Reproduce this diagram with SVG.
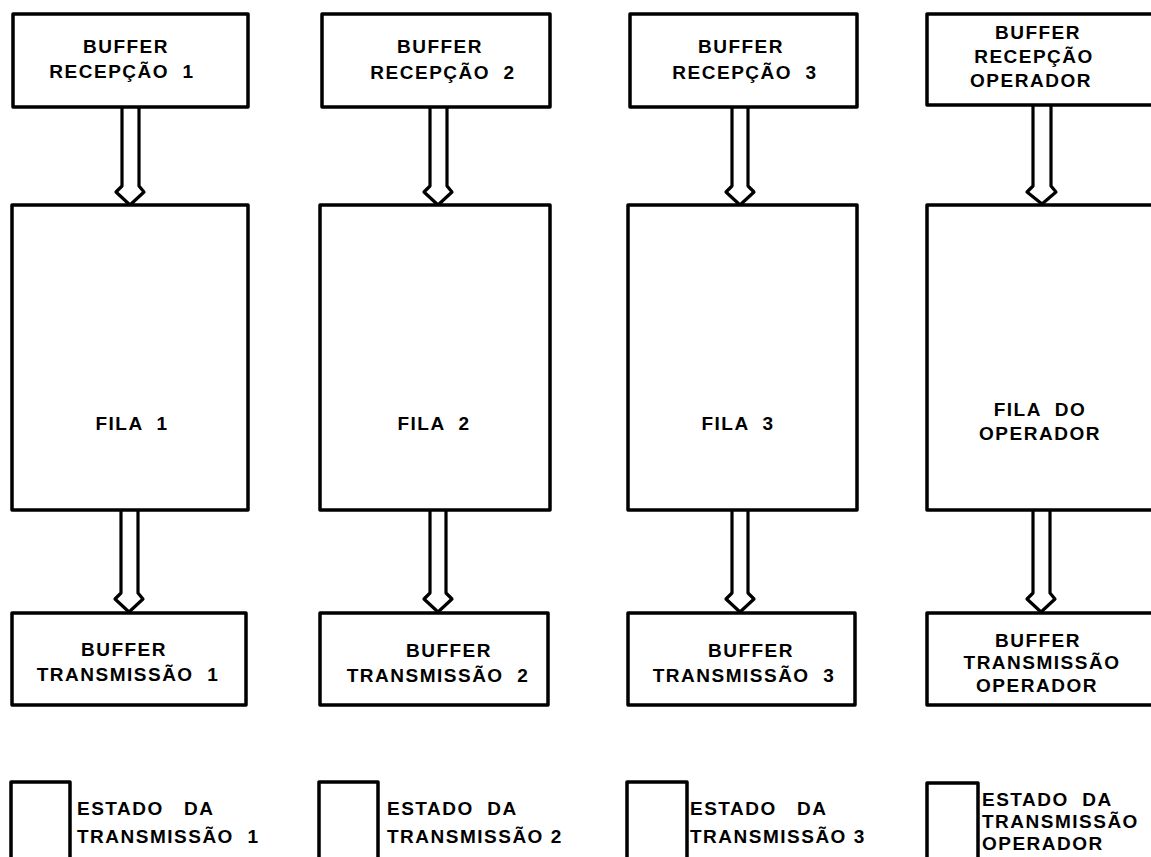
<svg xmlns="http://www.w3.org/2000/svg" width="1151" height="857" viewBox="0 0 1151 857" xml:space="preserve">
<style>
.box{fill:#fff;stroke:#000;stroke-width:3.5;stroke-linejoin:round}
.arr{fill:#fff;stroke:#000;stroke-width:3.2;stroke-linejoin:round}
text{font-family:"Liberation Sans",Arial,sans-serif;font-weight:bold;font-size:19px;letter-spacing:1.5px;fill:#000;white-space:pre}
.m{text-anchor:middle}
</style>
<rect width="1151" height="857" fill="#fff"/>
<g id="connectors">
<path class="arr" d="M122,107 V186 L116,192 L130,205 L144,192 L139,186 V107"/>
<path class="arr" d="M430,107 V186 L424,192 L438,205 L452,192 L447,186 V107"/>
<path class="arr" d="M732,107 V186 L726,192 L740,205 L754,192 L748,186 V107"/>
<path class="arr" d="M1033,105 V186 L1027,192 L1042,204 L1056,192 L1051,186 V105"/>
<path class="arr" d="M121,510 V593 L115,599 L129,612 L143,599 L138,593 V510"/>
<path class="arr" d="M430,510 V593 L424,599 L438,612 L452,599 L446,593 V510"/>
<path class="arr" d="M732,510 V593 L726,599 L740,612 L754,599 L748,593 V510"/>
<path class="arr" d="M1033,510 V593 L1027,599 L1041,612 L1055,599 L1050,593 V510"/>
</g>
<g id="buf-rx-1"><rect class="box" x="13" y="14" width="235" height="93"/><text class="m" x="126" y="53">BUFFER</text><text class="m" x="122" y="78">RECEPÇÃO  1</text></g>
<g id="buf-rx-2"><rect class="box" x="322" y="14" width="228" height="93"/><text class="m" x="440" y="53">BUFFER</text><text class="m" x="443" y="79">RECEPÇÃO  2</text></g>
<g id="buf-rx-3"><rect class="box" x="630" y="14" width="227" height="93"/><text class="m" x="741" y="53">BUFFER</text><text class="m" x="745" y="79">RECEPÇÃO  3</text></g>
<g id="buf-rx-op"><rect class="box" x="927" y="14" width="240" height="91"/><text class="m" x="1038" y="39">BUFFER</text><text class="m" x="1034" y="63">RECEPÇÃO</text><text class="m" x="1031" y="87">OPERADOR</text></g>
<g id="fila-1"><rect class="box" x="12" y="205" width="236" height="305"/><text class="m" x="132" y="430">FILA  1</text></g>
<g id="fila-2"><rect class="box" x="320" y="205" width="230" height="305"/><text class="m" x="434" y="430">FILA  2</text></g>
<g id="fila-3"><rect class="box" x="628" y="205" width="229" height="305"/><text class="m" x="738" y="430">FILA  3</text></g>
<g id="fila-op"><rect class="box" x="927" y="205" width="240" height="305"/><text class="m" x="1040" y="416">FILA  DO</text><text class="m" x="1040" y="440">OPERADOR</text></g>
<g id="buf-tx-1"><rect class="box" x="12" y="613" width="234" height="92"/><text class="m" x="124" y="656">BUFFER</text><text class="m" x="128" y="681">TRANSMISSÃO  1</text></g>
<g id="buf-tx-2"><rect class="box" x="320" y="613" width="228" height="92"/><text class="m" x="449" y="657">BUFFER</text><text class="m" x="438" y="682">TRANSMISSÃO  2</text></g>
<g id="buf-tx-3"><rect class="box" x="628" y="613" width="227" height="92"/><text class="m" x="751" y="657">BUFFER</text><text class="m" x="744" y="682">TRANSMISSÃO  3</text></g>
<g id="buf-tx-op"><rect class="box" x="927" y="613" width="240" height="92"/><text class="m" x="1038" y="647">BUFFER</text><text class="m" x="1042" y="669">TRANSMISSÃO</text><text class="m" x="1037" y="692">OPERADOR</text></g>
<g id="estado-1"><rect class="box" x="11" y="782" width="59" height="95"/><text x="77" y="815">ESTADO   DA</text><text x="77" y="843">TRANSMISSÃO  1</text></g>
<g id="estado-2"><rect class="box" x="319" y="782" width="59" height="95"/><text x="387" y="815">ESTADO  DA</text><text x="387" y="843">TRANSMISSÃO 2</text></g>
<g id="estado-3"><rect class="box" x="627" y="782" width="60" height="95"/><text x="690" y="815">ESTADO   DA</text><text x="690" y="843">TRANSMISSÃO 3</text></g>
<g id="estado-op"><rect class="box" x="927" y="783" width="51" height="95"/><text x="982" y="806">ESTADO  DA</text><text x="982" y="828">TRANSMISSÃO</text><text x="982" y="850">OPERADOR</text></g>
</svg>
